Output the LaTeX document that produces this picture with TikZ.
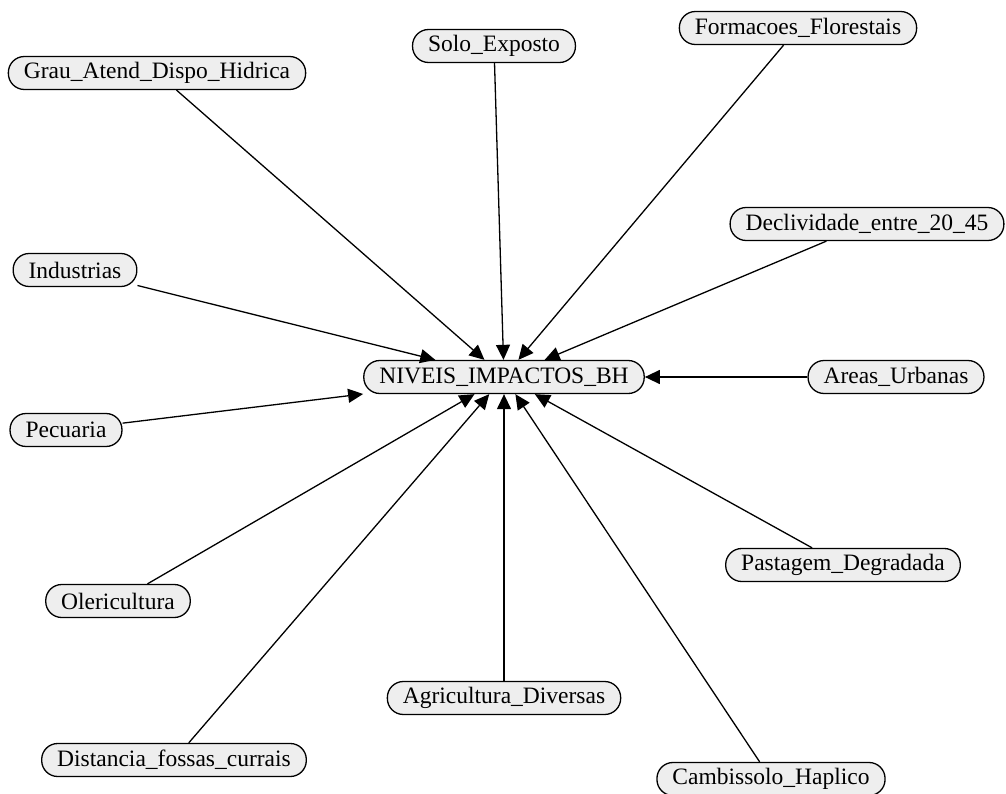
\documentclass[tikz,border=0pt]{standalone}
\usepackage{fontspec}
\setmainfont{Liberation Serif}
\usetikzlibrary{arrows.meta}
\definecolor{nodefill}{HTML}{EEEEEE}
\begin{document}
\begin{tikzpicture}[x=1pt,y=-1pt,
  vnode/.style={draw=black, line width=1.3pt, fill=nodefill, rounded corners=16pt,
    minimum height=33pt, inner xsep=15.5pt, inner ysep=0pt,
    font=\fontsize{23.5}{23.5}\selectfont},
  edge/.style={line width=1.3pt, -{Triangle[length=15pt,width=14pt]}}]
\useasboundingbox (0,0) rectangle (1006,794);
\node[vnode] (c) at (504,377) {NIVEIS\_IMPACTOS\_BH};
\node[vnode] (grau) at (157,73) {Grau\_Atend\_Dispo\_Hidrica};
\node[vnode] (solo) at (494,46) {Solo\_Exposto};
\node[vnode] (form) at (798,28) {Formacoes\_Florestais};
\node[vnode] (decl) at (867,224) {Declividade\_entre\_20\_45};
\node[vnode] (ind) at (75,270) {Industrias};
\node[vnode] (area) at (896,377) {Areas\_Urbanas};
\node[vnode] (pec) at (66,430) {Pecuaria};
\node[vnode] (past) at (843,565) {Pastagem\_Degradada};
\node[vnode] (oler) at (118,601) {Olericultura};
\node[vnode] (agri) at (504,698) {Agricultura\_Diversas};
\node[vnode] (dist) at (174,760) {Distancia\_fossas\_currais};
\node[vnode] (camb) at (771,779) {Cambissolo\_Haplico};
\foreach \n in {grau,solo,form,decl,ind,area,pec,past,oler,agri,dist,camb}
  \draw[edge] (\n) -- (c);
\end{tikzpicture}
\end{document}
